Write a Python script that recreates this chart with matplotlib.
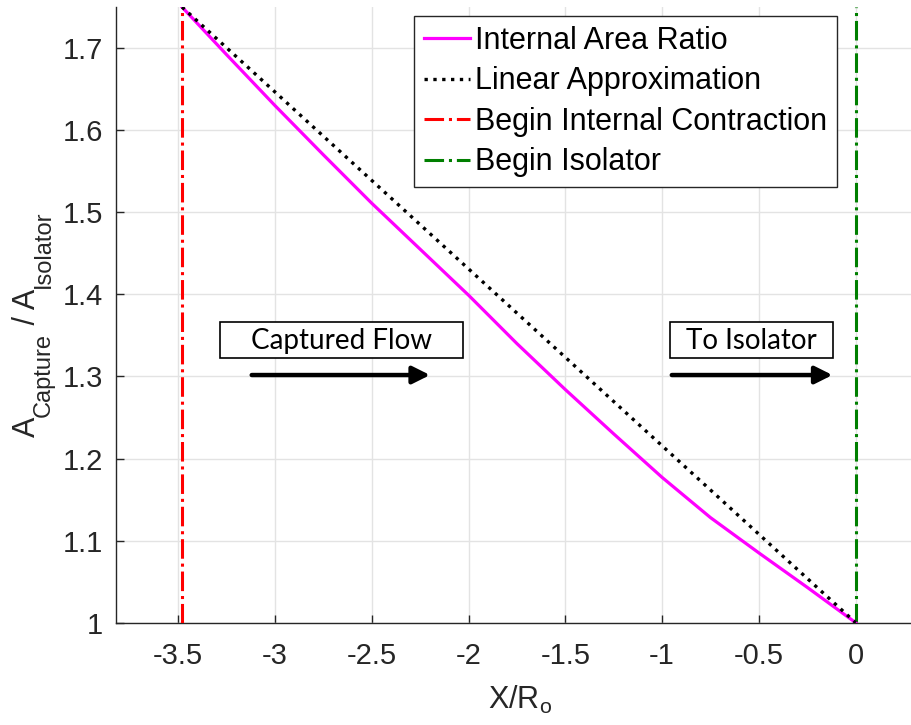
import matplotlib
matplotlib.use('Agg')
import matplotlib.pyplot as plt
from matplotlib.patches import Rectangle

plt.rcParams['font.family'] = ['Liberation Sans', 'DejaVu Sans']
plt.rcParams['mathtext.default'] = 'regular'

# area ratio along the inlet
x_area = [-3.48, -3.25, -3.0, -2.75, -2.5, -2.25, -2.0, -1.75, -1.5, -1.25, -1.0, -0.75, -0.5, -0.25, 0.0]
area_ratio = [1.75, 1.692, 1.630, 1.570, 1.511, 1.455, 1.399, 1.340, 1.284, 1.230, 1.177, 1.128, 1.085, 1.043, 1.0]

# straight line between inlet start and isolator
x_lin = [-3.48, 0.0]
y_lin = [1.75, 1.0]

x_contraction = -3.48
x_isolator = 0.0

xticks = [-3.5, -3, -2.5, -2, -1.5, -1, -0.5, 0]
xtick_labels = ['-3.5', '-3', '-2.5', '-2', '-1.5', '-1', '-0.5', '0']
yticks = [1.0, 1.1, 1.2, 1.3, 1.4, 1.5, 1.6, 1.7]
ytick_labels = ['1', '1.1', '1.2', '1.3', '1.4', '1.5', '1.6', '1.7']

W, H = 912, 725
fig = plt.figure(figsize=(W / 100, H / 100), dpi=100)
ax = fig.add_axes([0.1272, 0.1411, 1 - 0.1272, 0.9903 - 0.1411])

ylim = (1.0, 1.75)
ax.plot(x_area, area_ratio, color='magenta', lw=2.3, label='Internal Area Ratio', zorder=4)
ax.plot(x_lin, y_lin, color='black', ls=':', lw=2.4, label='Linear Approximation', zorder=5)
ax.plot([x_contraction, x_contraction], ylim, color='red', ls='-.', lw=2.2,
        label='Begin Internal Contraction', zorder=3)
ax.plot([x_isolator, x_isolator], ylim, color='#007f00', ls='-.', lw=2.2,
        label='Begin Isolator', zorder=3)

ax.set_xlim(-3.821, 0.2908)
ax.set_ylim(*ylim)
ax.set_xticks(xticks)
ax.set_xticklabels(xtick_labels)
ax.set_yticks(yticks)
ax.set_yticklabels(ytick_labels)
ax.grid(True, color='#e3e3e3', lw=1)
ax.set_axisbelow(True)
ax.tick_params(direction='in', length=6, width=1, labelsize=21, colors='#262626')
ax.tick_params(axis='x', pad=14)
ax.tick_params(axis='y', pad=9.5)
for s in ['top', 'right']:
    ax.spines[s].set_visible(False)
for s in ['left', 'bottom']:
    ax.spines[s].set_color('#262626')
    ax.spines[s].set_linewidth(1)

ax.set_xlabel('X/R$_o$', fontsize=22, color='#262626')
ax.xaxis.set_label_coords(0.5075, -0.1)

# y label built piece by piece so the subscripts stay large
renderer = fig.canvas.get_renderer()
y_pos = 437
label_parts = [('A', 22, 35), ('Capture', 17, 50), (' / A', 22, 35), ('Isolator', 17, 50)]
for txt, size, x_base in label_parts:
    t = fig.text(x_base / W, 1 - y_pos / H, txt, rotation=90, rotation_mode='anchor',
                 ha='left', va='baseline', fontsize=size, color='#262626')
    w, h, d = renderer.get_text_width_height_descent(txt, t.get_fontproperties(), ismath=False)
    y_pos -= w

leg = ax.legend(loc='upper right', bbox_to_anchor=(0.9058, 0.9854), borderaxespad=0,
                fontsize=22, handlelength=1.5, handletextpad=0.15, labelspacing=0.34,
                borderpad=0.33, fancybox=False, framealpha=1)
leg.get_frame().set_edgecolor('#262626')
leg.get_frame().set_linewidth(1)

# flow direction call-outs
boxes = [(-3.283, -2.030, 'Captured Flow'), (-0.959, -0.119, 'To Isolator')]
for x0, x1, txt in boxes:
    ax.add_patch(Rectangle((x0, 1.3228), x1 - x0, 1.3659 - 1.3228, fill=True,
                           facecolor='white', edgecolor='black', lw=1.2, zorder=6))
    ax.text((x0 + x1) / 2, 1.3434, txt, ha='center', va='center', fontsize=20,
            family='Lato', zorder=7)

arrows = [(-3.12, -2.199), (-0.95, -0.12)]
for xa, xb in arrows:
    ax.annotate('', xy=(xb, 1.3017), xytext=(xa, 1.3017),
                arrowprops=dict(arrowstyle='-|>', color='black', lw=3.2,
                                mutation_scale=26, shrinkA=0, shrinkB=0), zorder=7)

fig.savefig('out.png', dpi=100)
